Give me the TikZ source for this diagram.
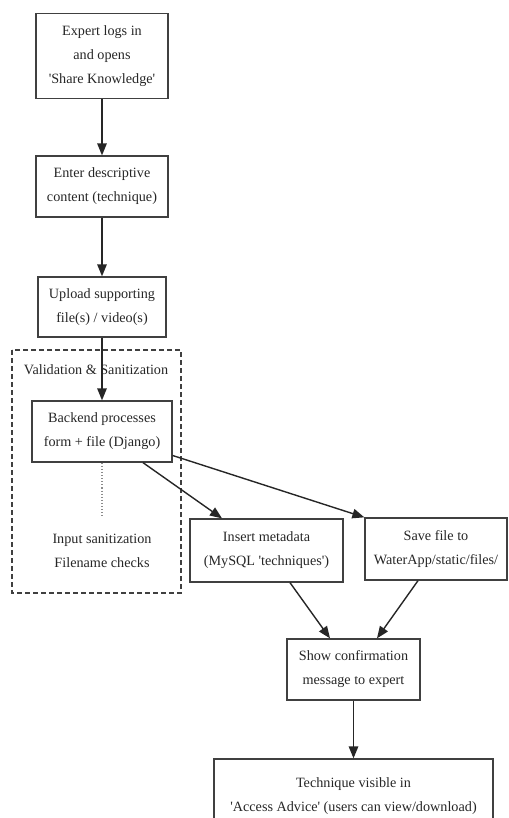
\documentclass[tikz,border=0pt]{standalone}
\usepackage{fontspec}
\newfontfamily\dgfont{Liberation Serif}
\usetikzlibrary{arrows.meta}
\begin{document}
\begin{tikzpicture}[x=1pt,y=-1pt,
  box/.style={draw=black!75, line width=1.3pt, rectangle, inner sep=0pt, align=center,
    font=\dgfont\fontsize{14.2}{24}\selectfont, text=black!85},
  lbl/.style={inner sep=0pt, align=center, font=\dgfont\fontsize{14.2}{24}\selectfont, text=black!85},
  arr/.style={draw=black!85, line width=1.4pt, -{Triangle[length=12pt,width=9.5pt]}},
  clusterbox/.style={draw=black!75, line width=1.1pt, dash pattern=on 5pt off 3pt}]
\useasboundingbox (0,0) rectangle (508,818);
\clip (0,0) rectangle (508,818);
\node[box, minimum width=132pt, minimum height=85pt] (b1) at (102,56) {Expert logs in\\and opens\\'Share Knowledge'};
\node[box, minimum width=132pt, minimum height=61pt] (b2) at (102,186.5) {Enter descriptive\\content (technique)};
\node[box, minimum width=128pt, minimum height=60pt] (b3) at (102,307) {Upload supporting\\file(s) / video(s)};
\draw[clusterbox] (12,350) rectangle (181,593);
\node[lbl] (cl) at (96,370) {Validation \& Sanitization};
\node[box, minimum width=140pt, minimum height=61pt] (b4) at (102,431.5) {Backend processes\\form + file (Django)};
\node[lbl] (san) at (102,551) {Input sanitization\\Filename checks};
\node[box, minimum width=153pt, minimum height=63pt] (ins) at (266.5,550.5) {Insert metadata\\(MySQL 'techniques')};
\node[box, minimum width=142pt, minimum height=62pt] (sav) at (436,549) {Save file to\\WaterApp/static/files/};
\node[box, minimum width=133pt, minimum height=61pt] (show) at (353.5,669.5) {Show confirmation\\message to expert};
\node[box, minimum width=279pt, minimum height=75pt] (tech) at (353.5,796.5) {Technique visible in\\'Access Advice' (users can view/download)};
\draw[arr] (b1) -- (b2);
\draw[arr] (b2) -- (b3);
\draw[arr] (b3) -- (b4);
\draw[draw=black!45, line width=1.1pt, dotted] (b4.south) -- ([yshift=16pt]san.north);
\draw[arr] ([xshift=41pt]b4.south) -- ([xshift=-44.5pt]ins.north);
\draw[arr] ([yshift=-24pt]b4.east) -- (sav.north west);
\draw[arr] ([xshift=23.5pt]ins.south) -- ([xshift=-23.5pt]show.north);
\draw[arr] ([xshift=-18pt]sav.south) -- ([xshift=23.5pt]show.north);
\draw[arr] (show) -- (tech);
\end{tikzpicture}
\end{document}
